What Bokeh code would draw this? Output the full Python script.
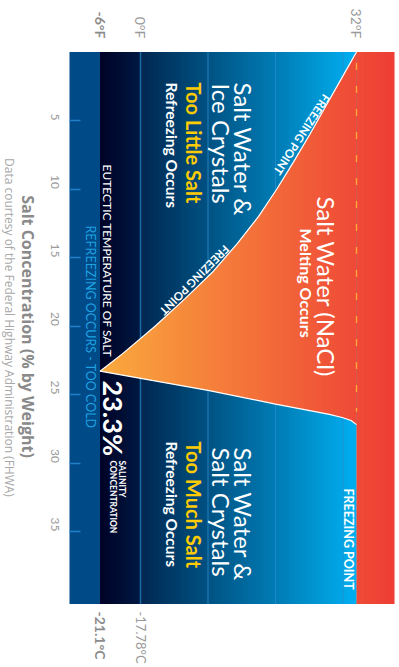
import math
import numpy as np
from bokeh.plotting import figure
from bokeh.models import Range1d, FixedTicker, Label, LinearAxis
from bokeh.embed import file_html
from bokeh.resources import INLINE

# ---------------- data ----------------
SALT_PCT = [0, 2, 4, 6, 8, 10, 12, 14, 16, 18, 20, 22, 23.3]
FREEZE_F = [32.0, 29.7, 27.4, 25.1, 22.7, 20.2, 17.5, 14.3, 10.8, 6.6, 2.2, -2.6, -6.0]
SOL_F = [-6.0, 10.0, 20.0, 28.0, 30.0, 31.2, 32.0]
SOL_PCT = [23.3, 24.7, 25.7, 26.45, 26.7, 26.9, 27.2]
EUTECTIC_F = -6.0
EUTECTIC_PCT = 23.3
WATER_FREEZE_F = 32.0
ZERO_F = 0.0
GRID_F = [10, 20, 30]
SALT_TICKS = [5, 10, 15, 20, 25, 30, 35]
TOP_TEMPS = [-6, 0, 32]
TOP_LABELS = ["-6°F", "0°F", "32°F"]
BOTTOM_TEMPS = [-6, 0]
BOTTOM_LABELS = ["-21.1°C", "-17.78°C"]
CHART_F = (-10.52, 37.6)      # temperature extent of the chart panel
CHART_PCT = (0.0, 40.3)       # salt extent of the chart panel

FONT = "Lato"
FONT2 = "Open Sans"
W, H = 397, 665


def lerp_color(c0, c1, f):
    return "#%02x%02x%02x" % tuple(int(round(a + (b - a) * f)) for a, b in zip(c0, c1))


# page pixel -> data (layout helper for text placement)
def fx(px):
    return -6 + (px - 99.5) / 6.75


def fy(py):
    return (py - 51.5) / 13.7


p = figure(width=W, height=H,
           x_range=Range1d(fx(0), fx(W)), y_range=Range1d(fy(H), fy(0)),
           output_backend="svg", toolbar_location=None,
           x_axis_location=None, y_axis_location=None,
           min_border_left=0, min_border_right=0, min_border_top=0, min_border_bottom=0,
           title=None)
p.outline_line_color = None
p.background_fill_color = "white"
p.border_fill_color = "white"
for g in p.xgrid + p.ygrid:
    g.visible = False

Y0, Y1 = CHART_PCT


def band(e, colors):
    step = e[1] - e[0]
    right = np.minimum(e[1:] + step, e[-1])
    p.quad(left=e[:-1], right=right, bottom=Y1, top=Y0,
           fill_color=colors, line_color=None)


# ---------------- background bands ----------------
p.quad(left=[CHART_F[0]], right=[EUTECTIC_F], bottom=Y1, top=Y0,
       fill_color="#004a88", line_color=None)

e = np.linspace(EUTECTIC_F, ZERO_F, 13)
band(e, [lerp_color((0, 3, 40), (0, 24, 64), i / (len(e) - 2)) for i in range(len(e) - 1)])

e = np.linspace(ZERO_F, WATER_FREEZE_F, 65)
band(e, [lerp_color((0, 40, 82), (0, 174, 239), i / (len(e) - 2)) for i in range(len(e) - 1)])

# grid lines
p.segment(x0=GRID_F, y0=Y0, x1=GRID_F, y1=Y1,
          line_color=(40, 140, 205), line_alpha=0.8, line_width=1)
p.segment(x0=[ZERO_F], y0=Y0, x1=[ZERO_F], y1=Y1,
          line_color="#1a6aa8", line_width=1.5)

# ---------------- liquid region ----------------
fr_f = FREEZE_F[::-1]
fr_s = SALT_PCT[::-1]
t = np.linspace(EUTECTIC_F, WATER_FREEZE_F, 153)
top = np.interp(t, fr_f, fr_s)
bot = np.interp(t, SOL_F, SOL_PCT)
xs, ys, cols = [], [], []
c_left, c_mid, c_right = (250, 170, 62), (239, 74, 55), (238, 62, 53)
n = len(t)
for i in range(n - 1):
    j = min(i + 2, n - 1)
    xs.append([t[i], t[j], t[j], t[i]])
    ys.append([top[i], top[j], bot[j], bot[i]])
    cols.append(lerp_color(c_left, c_mid, i / (n - 2)))
p.patches(xs, ys, fill_color=cols, line_color=None)

e = np.linspace(WATER_FREEZE_F, CHART_F[1], 11)
band(e, [lerp_color(c_mid, c_right, i / (len(e) - 2)) for i in range(len(e) - 1)])

# dashed 32F line
p.segment(x0=[WATER_FREEZE_F], y0=[0.8], x1=[WATER_FREEZE_F], y1=[SOL_PCT[-4] - 0.2],
          line_color="#f9a43c", line_width=1.4, line_dash="7 16")

# boundary lines
p.line(FREEZE_F, SALT_PCT, line_color="white", line_width=1.2)
p.line(SOL_F, SOL_PCT, line_color="white", line_width=1.2)

# ---------------- salt axis ----------------
ax = LinearAxis(fixed_location=CHART_F[0])
ax.ticker = FixedTicker(ticks=SALT_TICKS)
ax.major_tick_in = 11
ax.major_tick_out = 0
ax.minor_tick_line_color = None
ax.major_tick_line_color = "#2280c8"
ax.major_tick_line_width = 1.5
ax.axis_line_color = None
ax.major_label_orientation = -math.pi / 2
ax.major_label_standoff = 14
ax.major_label_text_font = FONT
ax.major_label_text_font_size = "12px"
ax.major_label_text_color = "#9a9a9a"
p.add_layout(ax, "left")


def add_text(txt, x, y, size, color="white", bold=False, align="left",
             baseline="middle", angle=-90, font=FONT):
    p.add_layout(Label(x=x, y=y, text=txt, text_font=font,
                       text_font_size="%spx" % size, text_color=color,
                       text_font_style="bold" if bold else "normal",
                       text_align=align, text_baseline=baseline,
                       angle=math.radians(angle)))


YEL = "#ffcb05"
# region texts (x = visual centre of the rotated line, y = where the line starts)
add_text("Salt Water &", fx(243), fy(82), 24)
add_text("Ice Crystals", fx(221), fy(83), 24)
add_text("Too Little Salt", fx(193), fy(82), 20, YEL, True)
add_text("Refreezing Occurs", fx(171.5), fy(82), 15.5, bold=True)
add_text("Salt Water (NaCl)", fx(325.5), fy(196), 24)
add_text("Melting Occurs", fx(305.5), fy(228), 16, bold=True)
add_text("Salt Water &", fx(243), fy(447), 24)
add_text("Salt Crystals", fx(221), fy(447), 24)
add_text("Too Much Salt", fx(193), fy(441), 20, YEL, True)
add_text("Refreezing Occurs", fx(171.5), fy(441), 15.5, bold=True)
add_text("FREEZING POINT", fx(348), fy(488), 12.5, bold=True)
add_text("EUTECTIC TEMPERATURE OF SALT", fx(107), fy(164), 12)
add_text("REFREEZING OCCURS - TOO COLD", fx(90), fy(225), 12.5, "#1ea0e1")
add_text("23.3%", fx(112.5), fy(380), 27, bold=True)
add_text("SALINITY", fx(121.5), fy(460), 8.5, bold=True)
add_text("CONCENTRATION", fx(112.5), fy(460), 8.5, bold=True)

# freezing-point labels along the curve
s1, s2 = 6.3, 17.0
add_text("FREEZING POINT", float(np.interp(s1, SALT_PCT, FREEZE_F)), s1, 11.5, bold=True,
         align="center", baseline="top", angle=-123)
add_text("FREEZING POINT", float(np.interp(s2, SALT_PCT, FREEZE_F)), s2, 11.5, bold=True,
         align="center", baseline="top", angle=-135)

# temperature labels
for tv, lab in zip(TOP_TEMPS, TOP_LABELS):
    add_text(lab, tv, fy(38), 14, "#8c8c8c" if tv == EUTECTIC_F else "#9a9a9a",
             bold=(tv == EUTECTIC_F), align="right")
for tv, lab in zip(BOTTOM_TEMPS, BOTTOM_LABELS):
    add_text(lab, tv, fy(611), 14 if tv == EUTECTIC_F else 13,
             "#8c8c8c" if tv == EUTECTIC_F else "#9a9a9a",
             bold=(tv == EUTECTIC_F), align="left")

add_text("Salt Concentration (% by Weight)", fx(27), fy(326), 16, "#8a8a8a", True,
         align="center", font=FONT2)
add_text("Data courtesy of the Federal Highway Administration (FHWA)", fx(9), fy(327), 12,
         "#a8a8a8", align="center", font=FONT2)

open("out.html", "w").write(file_html(p, INLINE))
